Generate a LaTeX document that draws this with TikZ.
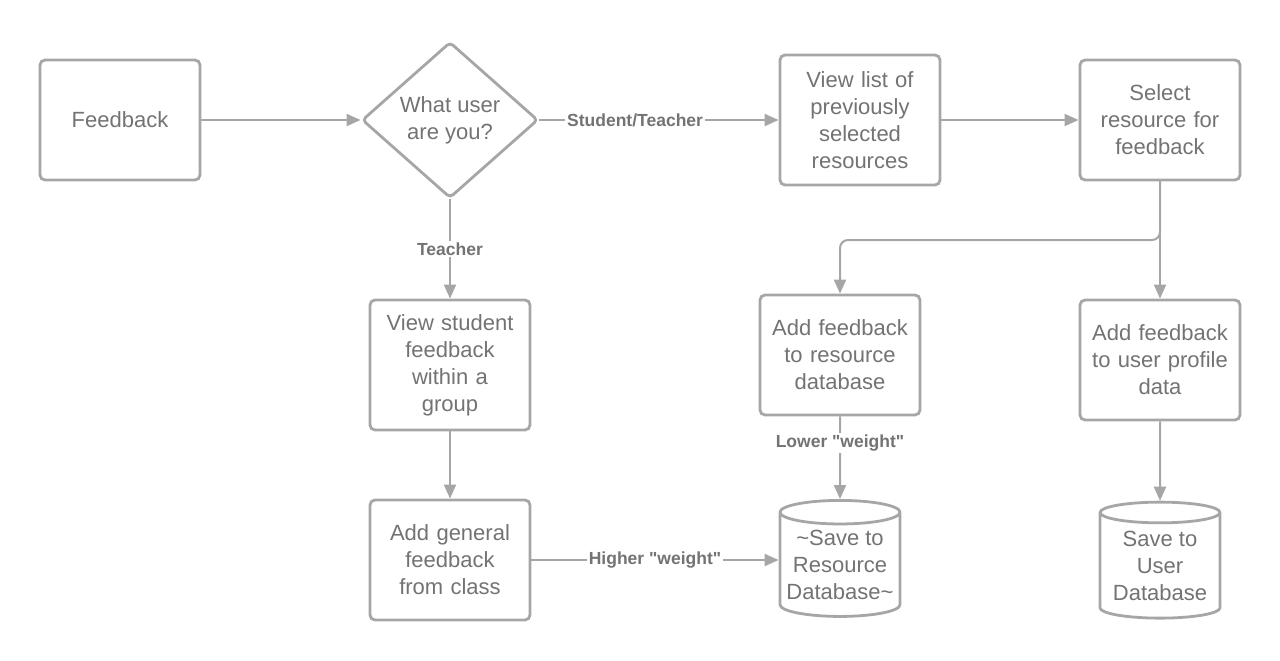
\documentclass[tikz,border=0pt]{standalone}
\usepackage{fontspec}
\setmainfont{Liberation Sans}
\usepackage{xcolor}
\usetikzlibrary{shapes.geometric,arrows.meta}
\definecolor{linegray}{HTML}{A6A6A6}
\definecolor{textgray}{HTML}{737373}
\tikzstyle{flowbox} = [
    draw=linegray,
    fill=white,
    line width=1.4pt,
    rectangle,
    rounded corners=2.5pt,
    minimum width=80pt,
    text width=72pt,
    align=center,
    text=textgray,
    font=\fontsize{11}{13.5}\selectfont
    ]
\tikzstyle{decision} = [
    draw=linegray,
    fill=white,
    line width=1.4pt,
    diamond,
    rounded corners=2pt,
    inner sep=0pt,
    minimum width=88pt,
    minimum height=78pt,
    align=center,
    text=textgray,
    font=\fontsize{11}{13.5}\selectfont
    ]
\tikzstyle{store} = [
    draw=linegray,
    fill=white,
    line width=1.4pt,
    cylinder,
    shape border rotate=90,
    aspect=0.22,
    inner sep=0pt,
    minimum width=60pt,
    minimum height=58pt,
    align=center,
    text=textgray,
    font=\fontsize{11}{13.5}\selectfont
    ]
\tikzstyle{flowline} = [
    draw=linegray,
    line width=1pt,
    -{Triangle[length=7pt,width=6pt]}
    ]
\tikzstyle{edgelabel} = [
    fill=white,
    inner sep=1pt,
    text=textgray,
    font=\bfseries\fontsize{8.75}{10}\selectfont
    ]

\begin{document}
\begin{tikzpicture}[x=0.5pt,y=-0.5pt]
\useasboundingbox (0,0) rectangle (1280,660);

% top row
\node[flowbox, minimum height=60pt] (feedback) at (120,120) {Feedback};
\node[decision] (usertype) at (450,120) {What user\\are you?};
\node[flowbox, minimum height=65pt] (viewlist) at (860,120) {View list of\\previously\\selected\\resources};
\node[flowbox, minimum height=60pt] (select) at (1160,120) {Select\\resource for\\feedback};

% teacher branch
\node[flowbox, minimum height=65pt] (viewstudent) at (450,365) {View student\\feedback\\within a\\group};
\node[flowbox, minimum height=60pt] (general) at (450,560) {Add general\\feedback\\from class};

% saving feedback
\node[flowbox, minimum height=60pt] (addresource) at (840,355) {Add feedback\\to resource\\database};
\node[flowbox, minimum height=60pt] (adduser) at (1160,360) {Add feedback\\to user profile\\data};
\node[store] (saveresource) at (840,565) {\textasciitilde Save to\\Resource\\Database\textasciitilde};
\node[store] (saveuser) at (1160,566) {Save to\\User\\Database};
\coordinate (split) at (1160,240);

\draw[flowline] (feedback) -- (usertype);
\draw[flowline] (usertype) -- node[edgelabel, pos=0.4] {Student/Teacher} (viewlist);
\draw[flowline] (viewlist) -- (select);
\draw[flowline] (usertype) -- node[edgelabel] {Teacher} (viewstudent);
\draw[flowline, rounded corners=4pt] (select.south) -- (split) -| (addresource.north);
\draw[flowline] (select) -- (adduser);
\draw[flowline] (viewstudent) -- (general);
\draw[flowline] (general.east) -- node[edgelabel] {Higher \textquotedbl weight\textquotedbl} (general.east -| saveresource.west);
\draw[flowline] (addresource) -- node[edgelabel, pos=0.32] {Lower \textquotedbl weight\textquotedbl} (saveresource);
\draw[flowline] (adduser) -- (saveuser);
\end{tikzpicture}
\end{document}
